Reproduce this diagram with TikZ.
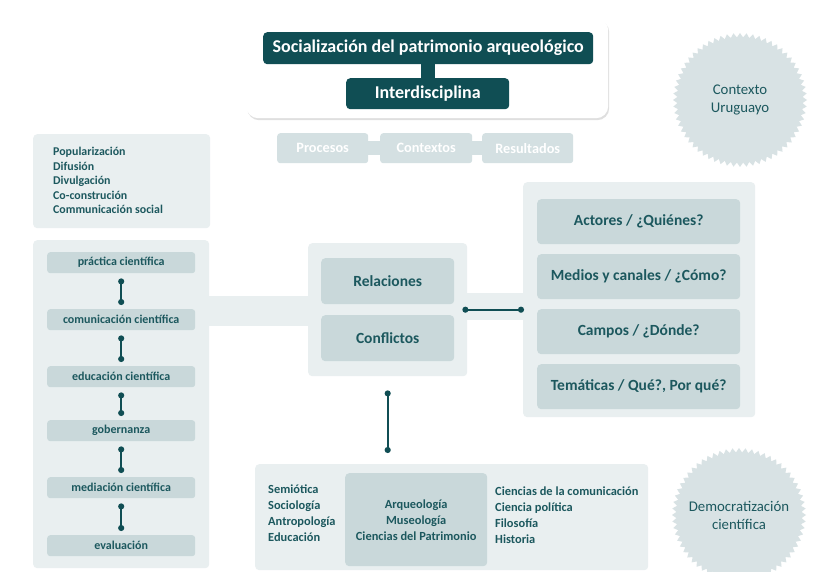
\documentclass[tikz,border=0pt]{standalone}
\usepackage{fontspec}
\setmainfont{Carlito}
\usetikzlibrary{shapes.geometric,shadows,arrows.meta,calc}
\definecolor{dteal}{RGB}{16,78,84}
\definecolor{tealtxt}{RGB}{28,88,94}
\definecolor{panel}{RGB}{233,239,240}
\definecolor{boxc}{RGB}{201,216,218}
\definecolor{pbox}{RGB}{212,224,226}
\definecolor{starc}{RGB}{216,226,228}
\tikzset{
  darkbox/.style={fill=dteal, rounded corners=4pt, text=white, font=\bfseries\fontsize{18}{21}\selectfont, inner sep=0pt, anchor=north west},
  pillbox/.style={fill=pbox, rounded corners=3pt, text=white, font=\bfseries\fontsize{14.3}{16}\selectfont, inner sep=0pt, anchor=north west},
  panelbox/.style={fill=panel, rounded corners=4pt, inner sep=0pt, anchor=north west},
  midbox/.style={fill=boxc, rounded corners=4pt, text=tealtxt, font=\bfseries\fontsize{15.5}{18}\selectfont, inner sep=0pt, anchor=north west},
  smallbox/.style={fill=boxc, rounded corners=3pt, text=tealtxt, font=\bfseries\fontsize{12}{14}\selectfont, inner sep=0pt, anchor=north west},
  listtxt/.style={text=tealtxt, font=\bfseries\fontsize{11.9}{14.5}\selectfont, align=left, inner sep=0pt, anchor=north west},
  btxt/.style={text=tealtxt, font=\bfseries\fontsize{12.4}{16}\selectfont, inner sep=0pt},
  dumb/.style={draw=dteal, line width=2pt, {Circle[length=6pt]}-{Circle[length=6pt]}},
  burst/.style={star, star points=64, star point ratio=1.07, fill=starc, minimum size=134pt, inner sep=0pt},
  bursttxt/.style={text=tealtxt, font=\fontsize{14.8}{18}\selectfont, align=center},
}
\begin{document}
\begin{tikzpicture}[x=1pt,y=-1pt]
\useasboundingbox[fill=white] (0,0) rectangle (830,572);
% top group
\node[fill=white, rounded corners=12pt, drop shadow={shadow xshift=1pt, shadow yshift=-2pt, opacity=0.25}, minimum width=362, minimum height=100, inner sep=0pt, anchor=north west] (topbox) at (246,18) {};
\node[darkbox, minimum width=330, minimum height=32] (soc) at (263,32) {Socialización del patrimonio arqueológico};
\node[darkbox, minimum width=163, minimum height=31] (inter) at (346,78) {Interdisciplina};
\fill[dteal] ($(soc.south)+(-7,-1)$) rectangle ($(inter.north)+(7,1)$);
% procesos
\node[pillbox, minimum width=91, minimum height=30] (proc) at (277,133) {Procesos};
\node[pillbox, minimum width=92, minimum height=30] (cont) at (380,133) {Contextos};
\node[pillbox, minimum width=91, minimum height=30] (res) at (482,133) {Resultados};
\fill[pbox] ($(proc.east)+(-1,-7)$) rectangle ($(cont.west)+(1,7)$);
\fill[pbox] ($(cont.east)+(-1,-7)$) rectangle ($(res.west)+(1,7)$);
% list box
\node[panelbox, minimum width=177, minimum height=94] (listbox) at (33,134) {};
\node[listtxt] (list) at (53,147) {Popularización\\Difusión\\Divulgación\\Co-construción\\Communicación social};
% left panel
\node[panelbox, minimum width=176, minimum height=328] (lpanel) at (33,240) {};
\node[smallbox, minimum width=148, minimum height=21] (l1) at (47,252) {práctica científica};
\node[smallbox, minimum width=148, minimum height=21] (l2) at (47,309) {comunicación científica};
\node[smallbox, minimum width=148, minimum height=21] (l3) at (47,366) {educación científica};
\node[smallbox, minimum width=148, minimum height=21] (l4) at (47,420) {gobernanza};
\node[smallbox, minimum width=148, minimum height=21] (l5) at (47,477) {mediación científica};
\node[smallbox, minimum width=148, minimum height=21] (l6) at (47,535) {evaluación};
\foreach \a/\b in {l1/l2,l2/l3,l3/l4,l4/l5,l5/l6}
  \draw[dumb] ($(\a.south)+(0,5)$) -- ($(\b.north)+(0,-4)$);
% central panel
\node[panelbox, minimum width=159, minimum height=133] (cpanel) at (308,243) {};
\fill[panel] (207,296) rectangle (310,326);
\node[midbox, minimum width=133, minimum height=46] (rel) at (321,258) {Relaciones};
\node[midbox, minimum width=133, minimum height=46] (conf) at (321,315) {Conflictos};
% right panel
\node[panelbox, minimum width=232, minimum height=235] (rpanel) at (523,182) {};
\fill[panel] (465,293) rectangle (525,320);
\node[midbox, minimum width=203, minimum height=45] (r1) at (537,199) {Actores / ¿Quiénes?};
\node[midbox, minimum width=203, minimum height=45] (r2) at (537,254) {Medios y canales / ¿Cómo?};
\node[midbox, minimum width=203, minimum height=45] (r3) at (537,309) {Campos / ¿Dónde?};
\node[midbox, minimum width=203, minimum height=45] (r4) at (537,364) {Temáticas / Qué?, Por qué?};
\draw[dumb] ($(cpanel.east)+(-5,0)$) -- ($(rpanel.west |- cpanel.east)+(1,0)$);
% bottom panel
\node[panelbox, minimum width=393, minimum height=106] (bpanel) at (255,464) {};
\draw[dumb] ($(cpanel.south)+(0,14)$) -- ($(cpanel.south |- bpanel.north)+(0,-11)$);
\node[fill=boxc, rounded corners=4pt, minimum width=142, minimum height=93, inner sep=0pt, anchor=north west] (core) at (345,473) {};
\node[btxt, align=center] (coretxt) at (core.center) {Arqueología\\Museología\\Ciencias del Patrimonio};
\node[btxt, align=left, anchor=north west] (bleft) at (268,485) {Semiótica\\Sociología\\Antropología\\Educación};
\node[btxt, align=left, anchor=north west] (bright) at (495,487) {Ciencias de la comunicación\\Ciencia política\\Filosofía\\Historia};
% starbursts
\node[burst] (ctx) at (740,100) {};
\node[bursttxt] (ctxt) at (ctx.center) {Contexto\\Uruguayo};
\node[burst] (dem) at (739,515) {};
\node[bursttxt] (demt) at (dem.center) {Democratización\\científica};
\end{tikzpicture}
\end{document}
